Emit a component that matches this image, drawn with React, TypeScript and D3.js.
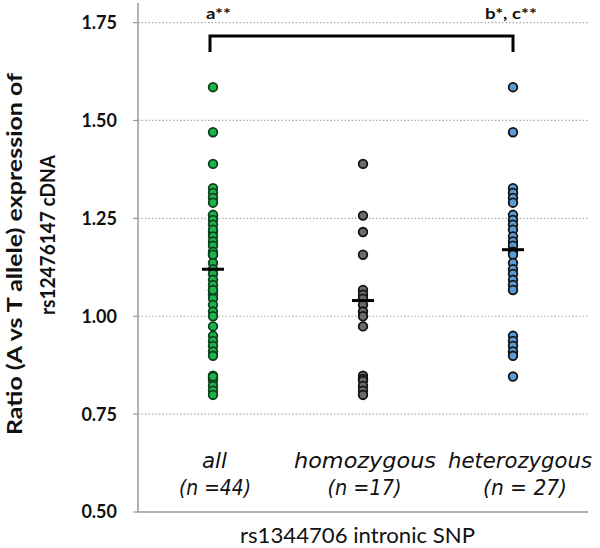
import React from "react";
import * as d3 from "d3";

const categories = ["all", "homozygous", "heterozygous"];
const nLabels = ["(n =44)", "(n =17)", "(n = 27)"];
const homozygous = [1.389, 1.257, 1.215, 1.157, 1.067, 1.055, 1.045, 1.029, 1.012, 1.0, 0.974, 0.848, 0.84, 0.835, 0.822, 0.81, 0.799];
const heterozygous = [1.585, 1.47, 1.327, 1.315, 1.302, 1.29, 1.259, 1.246, 1.234, 1.221, 1.204, 1.191, 1.18, 1.165, 1.157, 1.136, 1.12, 1.108, 1.093, 1.08, 1.067, 0.95, 0.937, 0.924, 0.91, 0.899, 0.846];
const allValues = [...homozygous, ...heterozygous];
const centerLines = [1.12, 1.04, 1.17];
const yTicks = [0.5, 0.75, 1.0, 1.25, 1.5, 1.75];
const fills = ["#1fb14c", "#6a6a6a", "#5b9bd5"];
const strokes = ["#0d3d1a", "#111111", "#111111"];

export default function App() {
  const W = 600, H = 548;
  const left = 138, right = 588, top = 3, bottom = 512;
  const x = d3.scaleBand<string>().domain(categories).range([left, right]);
  const y = d3.scaleLinear().domain([0.5, 1.8]).range([bottom, top]);
  const cx = (c: string) => (x(c) as number) + x.bandwidth() / 2;
  const groups = [allValues, homozygous, heterozygous];
  const font = "Lato, 'Open Sans', sans-serif";
  const catFont = "'DejaVu Sans', Verdana, sans-serif";
  const catCenters = [214.5, 365, 520];
  const catLens = [25, 142, 144];
  const nCenters = [215, 364.5, 525];
  const nLens = [72, 74, 84];

  return (
    <svg width={W} height={H} style={{ position: "absolute", left: 0, top: 0, background: "#fff" }} fontFamily={font}>
      {yTicks.filter(t => t > 0.5).map(t => (
        <line key={"g" + t} x1={left} x2={right} y1={y(t)} y2={y(t)} stroke="#aaa" strokeWidth={1.2} strokeDasharray="1.5,2" />
      ))}
      {yTicks.map(t => (
        <g key={"t" + t}>
          <line x1={left - 5} x2={left} y1={y(t)} y2={y(t)} stroke="#999" strokeWidth={1.2} />
          <text x={117} y={y(t)} dy="0.36em" textAnchor="end" fontSize={18} fontWeight="bold" fill="#111">{t.toFixed(2)}</text>
        </g>
      ))}
      <line x1={left} x2={left} y1={top} y2={bottom} stroke="#999" strokeWidth={1.5} />
      <line x1={left} x2={right} y1={bottom} y2={bottom} stroke="#999" strokeWidth={1.5} />

      {groups.map((vals, i) => (
        <g key={"grp" + i}>
          {vals.map((v, j) => (
            <circle key={j} cx={cx(categories[i])} cy={y(v)} r={4.3} fill={fills[i]} stroke={strokes[i]} strokeWidth={1.8} />
          ))}
          <line x1={cx(categories[i]) - 11} x2={cx(categories[i]) + 11} y1={y(centerLines[i])} y2={y(centerLines[i])} stroke="#000" strokeWidth={3} />
        </g>
      ))}

      <path d={`M${cx(categories[0]) - 3},52 V36 H${cx(categories[2])} V52`} fill="none" stroke="#000" strokeWidth={3} />
      <text x={206} y={19} fontSize={16} fontWeight="bold" fill="#111" textLength={25} lengthAdjust="spacingAndGlyphs">a**</text>
      <text x={485} y={19} fontSize={16} fontWeight="bold" fill="#111" textLength={52} lengthAdjust="spacingAndGlyphs">b*, c**</text>

      {categories.map((c, i) => (
        <g key={"lab" + c} fontFamily={catFont}>
          <text x={catCenters[i] - catLens[i] / 2} y={468} fontSize={21} fontStyle="italic" fill="#111" textLength={catLens[i]} lengthAdjust="spacingAndGlyphs">{c}</text>
          <text x={nCenters[i] - nLens[i] / 2} y={495} fontSize={21} fontStyle="italic" fill="#111" textLength={nLens[i]} lengthAdjust="spacingAndGlyphs">{nLabels[i]}</text>
        </g>
      ))}
      <text x={240} y={543} fontSize={21} fill="#111" textLength={235} lengthAdjust="spacingAndGlyphs">rs1344706 intronic SNP</text>

      <g transform="rotate(-90)">
        <text x={-435} y={22} fontSize={21} fontWeight="bold" fill="#111" textLength={362} lengthAdjust="spacingAndGlyphs">Ratio (A vs T allele) expression of</text>
        <text x={-315} y={55} fontSize={21} fontWeight="bold" fill="#111" textLength={160} lengthAdjust="spacingAndGlyphs">rs12476147 cDNA</text>
      </g>
    </svg>
  );
}
